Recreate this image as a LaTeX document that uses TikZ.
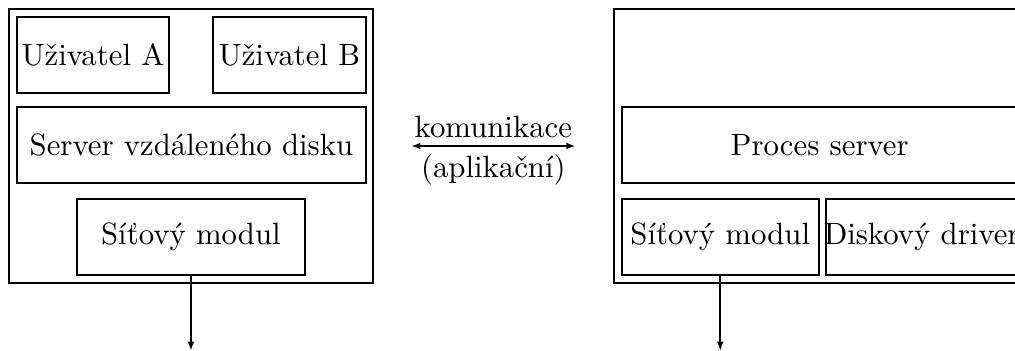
\documentclass[tikz,border=0pt]{standalone}
\usepackage{fontspec}
\usetikzlibrary{positioning, arrows.meta}

\begin{document}
\begin{tikzpicture}[
    >={Latex[length=3pt, width=2.2pt]},   % malé plné šipky
    box/.style={draw, semithick, rectangle, inner sep=0pt, minimum height=0.868cm},
    host/.style={draw, thick, rectangle, inner sep=0pt, minimum height=3.128cm},
    link/.style={semithick, ->},
    lbl/.style={inner sep=2.5pt}
]
    % výřez obrázku
    \useasboundingbox (0,0) rectangle (11.59,4.007);
    \clip (0,0) rectangle (11.59,4.007);

    % --- klient (vlevo) ---
    \node [host, minimum width=4.155cm] (hostA) at (2.18,2.34) {};
    \node [box, minimum width=1.735cm] (userA) at (1.062,3.379) {Uživatel A};
    \node [box, minimum width=1.746cm] (userB) at (3.305,3.379) {Uživatel B};
    \node [box, minimum width=3.984cm] (srvA) at (2.186,2.352) {Server vzdáleného disku};
    \node [box, minimum width=2.603cm] (netA) at (2.18,1.301) {Síťový modul};
    \coordinate [below=0.857cm of netA.south] (outA);
    \draw [link] (netA.south) -- (outA);

    % --- server (vpravo, oříznutý) ---
    \node [host, minimum width=4.75cm] (hostB) at (9.384,2.34) {};
    \node [box, minimum width=4.52cm] (procB) at (9.36,2.352) {Proces server};
    \node [box, minimum width=2.249cm] (netB) at (8.2245,1.301) {Síťový modul};
    % text je širší než box, proto jako label
    \node [box, minimum width=2.19cm, label=center:Diskový driver] (diskB) at (10.524,1.301) {};
    \coordinate [below=0.857cm of netB.south] (outB);
    \draw [link] (netB.south) -- (outB);

    % --- komunikace mezi stranami ---
    \draw [link, <->] ([xshift=0.422cm]hostA.east) -- ([xshift=-0.422cm]hostB.west)
        node[midway, above, lbl] {komunikace}
        node[midway, below, lbl] {(aplikační)};

\end{tikzpicture}
\end{document}
